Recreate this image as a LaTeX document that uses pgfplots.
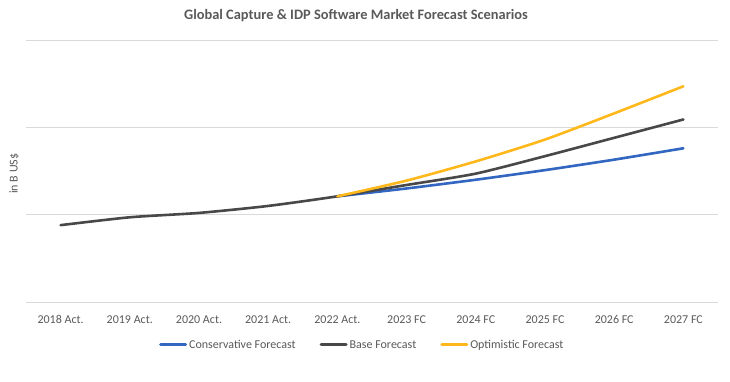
\documentclass[border=0pt]{standalone}
\usepackage{pgfplots}
\pgfplotsset{compat=1.18}
\usepackage{fontspec}
\setmainfont{Carlito}
\definecolor{cblue}{RGB}{50,102,192}
\definecolor{cgray}{RGB}{72,72,72}
\definecolor{corange}{RGB}{255,184,28}
\definecolor{cgrid}{RGB}{217,217,217}
\definecolor{ctext}{RGB}{89,89,89}
\begin{document}
\begin{tikzpicture}
\useasboundingbox (0,0) rectangle (730bp,382bp);
\node[font=\fontsize{14.4bp}{16bp}\selectfont\bfseries, text=ctext] at (356bp,366bp) {Global Capture \& IDP Software Market Forecast Scenarios};
\begin{axis}[
  at={(26bp,80bp)}, anchor=south west,
  scale only axis, width=692bp, height=262bp,
  xmin=-0.5, xmax=9.5, ymin=0, ymax=3,
  xtick={0,...,9},
  xticklabels={2018 Act.,2019 Act.,2020 Act.,2021 Act.,2022 Act.,2023 FC,2024 FC,2025 FC,2026 FC,2027 FC},
  ytick={0,1,2,3}, yticklabels={},
  ymajorgrids, grid style={cgrid, line width=0.9bp},
  axis line style={draw=none},
  major tick length=0pt,
  tick label style={font=\fontsize{12bp}{14bp}\selectfont, text=ctext},
  xticklabel style={yshift=-10bp},
  ylabel={in B US\$},
  ylabel style={font=\fontsize{12bp}{14bp}\selectfont, text=ctext, at={(axis description cs:-0.017,0.49)}, anchor=center, rotate=0},
  legend columns=3,
  legend style={at={(0.486,-0.164)}, anchor=center, draw=none, font=\fontsize{12bp}{14bp}\selectfont, text=ctext,
    /tikz/every even column/.append style={column sep=22bp}},
  legend image code/.code={\draw[#1, line width=3bp] (0bp,0bp) -- (25bp,0bp);},
  every axis plot/.append style={line width=2.6bp, smooth, tension=0.4, line cap=round},
]
\addplot[cblue] coordinates {(4,1.21) (5,1.30) (6,1.40) (7,1.51) (8,1.63) (9,1.76)};
\addlegendentry{Conservative Forecast}
\addplot[cgray] coordinates {(0,0.88) (1,0.97) (2,1.02) (3,1.10) (4,1.21) (5,1.34) (6,1.47) (7,1.67) (8,1.88) (9,2.09)};
\addlegendentry{Base Forecast}
\addplot[corange] coordinates {(4,1.21) (5,1.39) (6,1.61) (7,1.86) (8,2.16) (9,2.47)};
\addlegendentry{Optimistic Forecast}
\end{axis}
\end{tikzpicture}
\end{document}
